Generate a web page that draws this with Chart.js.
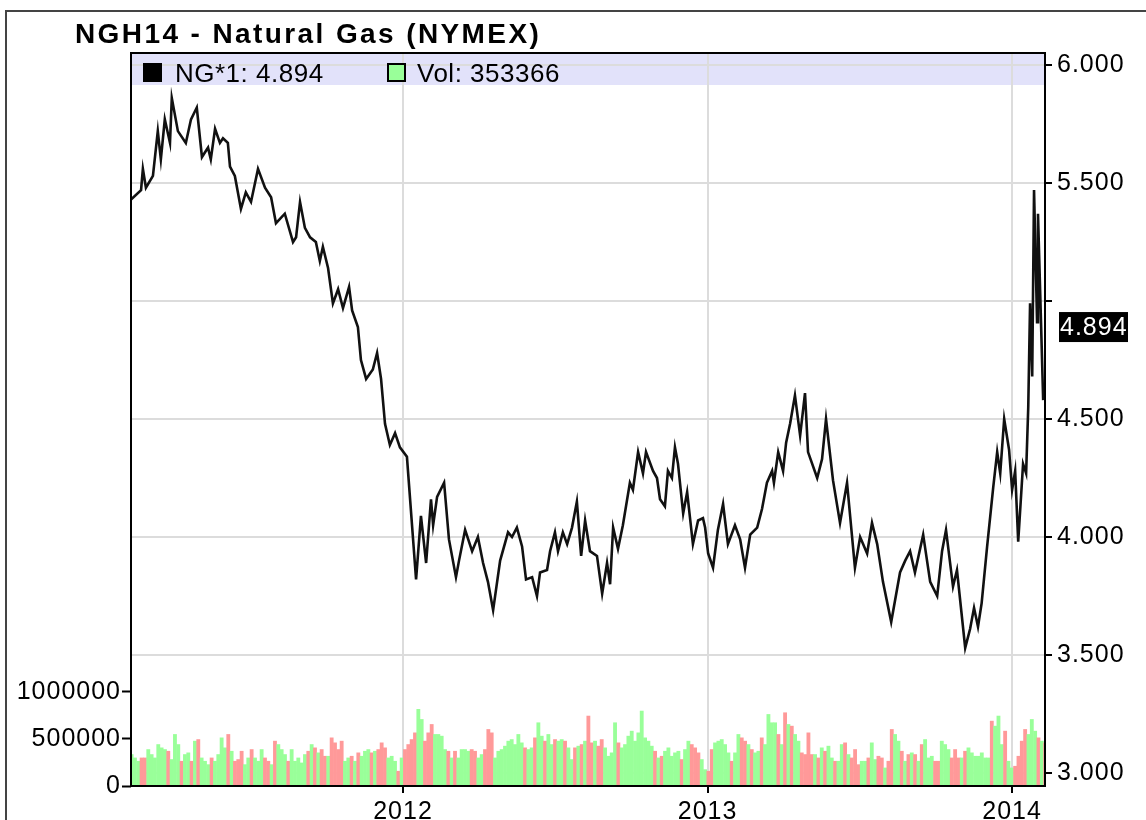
<!DOCTYPE html>
<html>
<head>
<meta charset="utf-8">
<script src="https://cdn.jsdelivr.net/npm/chart.js@4.4.1/dist/chart.umd.min.js"></script>
<style>
    html, body { margin: 0; padding: 0; background: #fff; }
</style>
</head>
<body>
<canvas id="grafica" width="1146" height="820"></canvas>
<script>
// Textos del grafico
var titulo = "NGH14 - Natural Gas (NYMEX)";
var serieNombre = "NG*1";
var ultimoPrecio = 4.894;
var volNombre = "Vol";
var ultimoVol = 353366;

// Precio (fecha en año decimal, valor)
var precioFechas = [
    2011.107, 2011.140, 2011.146, 2011.156, 2011.179, 2011.195, 2011.205, 2011.218, 2011.235, 2011.241,
    2011.261, 2011.287, 2011.304, 2011.323, 2011.340, 2011.360, 2011.369, 2011.383, 2011.399, 2011.409,
    2011.425, 2011.432, 2011.448, 2011.468, 2011.484, 2011.501, 2011.524, 2011.547, 2011.567, 2011.583,
    2011.612, 2011.639, 2011.649, 2011.662, 2011.678, 2011.695, 2011.714, 2011.727, 2011.737, 2011.754,
    2011.770, 2011.787, 2011.803, 2011.823, 2011.833, 2011.852, 2011.862, 2011.879, 2011.901, 2011.915,
    2011.928, 2011.941, 2011.957, 2011.974, 2011.990,
    2012.013, 2012.043, 2012.059, 2012.076, 2012.092, 2012.099, 2012.112, 2012.135, 2012.151, 2012.174,
    2012.184, 2012.204, 2012.227, 2012.246, 2012.263, 2012.279, 2012.296, 2012.319, 2012.345, 2012.358,
    2012.374, 2012.391, 2012.404, 2012.424, 2012.440, 2012.450, 2012.473, 2012.483, 2012.499, 2012.509,
    2012.525, 2012.539, 2012.555, 2012.571, 2012.585, 2012.598, 2012.614, 2012.637, 2012.654, 2012.670,
    2012.680, 2012.690, 2012.706, 2012.722, 2012.745, 2012.755, 2012.772, 2012.788, 2012.798, 2012.821,
    2012.834, 2012.844, 2012.860, 2012.870, 2012.883, 2012.893, 2012.903, 2012.920, 2012.933, 2012.952,
    2012.969, 2012.985, 2012.992,
    2013.002, 2013.018, 2013.034, 2013.051, 2013.067, 2013.090, 2013.107, 2013.123, 2013.140, 2013.163,
    2013.179, 2013.195, 2013.212, 2013.218, 2013.232, 2013.248, 2013.258, 2013.271, 2013.287, 2013.304,
    2013.320, 2013.330, 2013.360, 2013.376, 2013.389, 2013.412, 2013.435, 2013.458, 2013.484, 2013.501,
    2013.524, 2013.540, 2013.557, 2013.576, 2013.603, 2013.632, 2013.649, 2013.665, 2013.681, 2013.708,
    2013.731, 2013.754, 2013.770, 2013.783, 2013.806, 2013.819, 2013.846, 2013.862, 2013.875, 2013.888,
    2013.900, 2013.918, 2013.938, 2013.951, 2013.961, 2013.974, 2013.990,
    2014.000, 2014.010, 2014.020, 2014.036, 2014.046, 2014.053, 2014.059, 2014.066, 2014.072, 2014.082,
    2014.085, 2014.102
];
var precioValores = [
    5.43, 5.47, 5.56, 5.48, 5.53, 5.72, 5.60, 5.77, 5.67, 5.86,
    5.72, 5.67, 5.77, 5.82, 5.61, 5.65, 5.60, 5.73, 5.67, 5.69,
    5.67, 5.57, 5.53, 5.39, 5.46, 5.42, 5.56, 5.48, 5.44, 5.33,
    5.37, 5.25, 5.27, 5.42, 5.31, 5.27, 5.25, 5.17, 5.23, 5.14,
    4.99, 5.05, 4.97, 5.06, 4.96, 4.89, 4.75, 4.67, 4.71, 4.78,
    4.67, 4.48, 4.39, 4.44, 4.38,
    4.34, 3.82, 4.09, 3.89, 4.16, 4.05, 4.17, 4.23, 3.99, 3.83,
    3.90, 4.03, 3.94, 4.00, 3.89, 3.81, 3.69, 3.90, 4.02, 4.00,
    4.04, 3.96, 3.82, 3.83, 3.75, 3.85, 3.86, 3.94, 4.02, 3.94,
    4.02, 3.97, 4.04, 4.15, 3.92, 4.07, 3.94, 3.92, 3.76, 3.89,
    3.80, 4.04, 3.95, 4.05, 4.23, 4.20, 4.36, 4.27, 4.36, 4.28,
    4.25, 4.16, 4.13, 4.28, 4.25, 4.38, 4.31, 4.10, 4.19, 3.97,
    4.07, 4.08, 4.04,
    3.93, 3.87, 4.03, 4.14, 3.97, 4.05, 3.99, 3.87, 4.01, 4.04,
    4.12, 4.23, 4.28, 4.23, 4.36, 4.28, 4.40, 4.48, 4.60, 4.43,
    4.61, 4.36, 4.25, 4.33, 4.50, 4.24, 4.06, 4.23, 3.87, 4.00,
    3.93, 4.06, 3.97, 3.81, 3.64, 3.85, 3.90, 3.94, 3.85, 4.01,
    3.81, 3.75, 3.94, 4.03, 3.79, 3.86, 3.53, 3.61, 3.70, 3.62,
    3.72, 3.96, 4.21, 4.36, 4.27, 4.50, 4.37,
    4.20, 4.28, 3.98, 4.31, 4.27, 4.55, 4.99, 4.68, 5.47, 4.91,
    5.37, 4.58
];

// Volumen: una barra por sesion, desde volInicio cada volPaso años
var volInicio = 2011.109;
var volPaso = 0.010947;
var volValores = [
    337000, 301000, 266000, 301000, 301000, 390000, 337000, 301000, 443000, 408000,
    390000, 372000, 284000, 550000, 443000, 266000, 337000, 355000, 266000, 479000,
    496000, 301000, 266000, 230000, 301000, 266000, 337000, 514000, 408000, 550000,
    372000, 266000, 284000, 372000, 230000, 301000, 390000, 301000, 266000, 390000,
    301000, 266000, 230000, 479000, 443000, 390000, 337000, 266000, 390000, 266000,
    301000, 248000, 337000, 372000, 443000, 408000, 355000, 390000, 319000, 319000,
    514000, 461000, 390000, 479000, 266000, 301000, 319000, 266000, 355000, 319000,
    372000, 390000, 355000, 372000, 390000, 461000, 408000, 301000, 319000, 266000,
    160000, 301000, 390000, 443000, 496000, 567000, 816000, 709000, 479000, 567000,
    656000, 550000, 550000, 532000, 390000, 372000,
    301000, 372000, 301000, 390000, 390000, 372000, 390000, 372000, 301000, 337000,
    390000, 603000, 567000, 301000, 372000, 390000, 426000, 479000, 496000, 443000,
    550000, 461000, 408000, 390000, 408000, 514000, 674000, 532000, 479000, 550000,
    443000, 496000, 479000, 496000, 479000, 408000, 284000, 408000, 426000, 443000,
    479000, 745000, 461000, 479000, 426000, 496000, 408000, 319000, 355000, 674000,
    461000, 408000, 443000, 532000, 585000, 479000, 567000, 798000, 514000, 479000,
    426000, 372000, 301000, 319000, 372000, 408000, 319000, 355000, 372000, 284000,
    390000, 479000, 443000, 408000, 355000, 284000, 177000, 160000, 390000, 461000,
    479000, 496000, 443000, 355000, 266000, 355000, 550000, 514000, 479000, 443000,
    390000, 355000, 372000, 514000, 443000, 762000, 674000, 674000, 550000, 443000,
    780000, 656000, 638000, 550000, 479000,
    355000, 337000, 567000, 337000, 337000, 301000, 408000, 372000, 426000, 301000,
    266000, 266000, 443000, 461000, 337000, 301000, 390000, 230000, 266000, 266000,
    301000, 461000, 284000, 319000, 301000, 195000, 266000, 603000, 550000, 479000,
    372000, 266000, 337000, 355000, 337000, 266000, 443000, 496000, 301000, 319000,
    266000, 266000, 479000, 443000, 390000, 301000, 390000, 301000, 301000, 372000,
    408000, 355000, 319000, 319000, 355000, 301000, 301000, 691000, 638000, 745000,
    443000, 585000, 266000, 195000, 213000, 319000, 479000, 603000, 550000, 709000,
    585000, 514000, 479000, 461000
];
// g = sesion al alza, r = sesion a la baja
var volSentido =
    "gggrrggggggrgggrggrgrgggrggggrgrrrggrgggrrgrgggrgggggrgrgrrgrrrrggrgrgggrgrrrgggrgrrrrggrrrggggr" +
    "grggggrrggrrrgggggggggrggrggrggrggrggrgrgrrgrrggggrggggggggggrgrgggggrggrrrggrrgggggrggrrgrggrggggrgrgrggr" +
    "rrrgrgrggrggrgrrrggrggrrgrrggrgrgrgrgggrrgggrrrgrgggggggrgggrggrrrrgggrgrr";

// Ejes
var anios = [2012, 2013, 2014];
var preciosTicks = [3, 3.5, 4, 4.5, 5, 5.5, 6];
var preciosEtiquetas = ["3.000", "3.500", "4.000", "4.500", "", "5.500", "6.000"];
var volTicks = [0, 500000, 1000000];
var volEtiquetas = ["0", "500000", "1000000"];

var fuente = "'Liberation Sans', Arial, sans-serif";

// Marco, titulo, leyenda y etiqueta del ultimo precio
var decorado = {
    id: "decorado",
    beforeDraw: function (chart) {
        var c = chart.ctx, a = chart.chartArea;
        c.save();
        c.fillStyle = "#e2e2fa";
        c.fillRect(a.left, a.top, a.right - a.left, 32);
        c.restore();
        c.letterSpacing = "1px";
    },
    afterDraw: function (chart) {
        var c = chart.ctx, a = chart.chartArea;
        c.save();
        c.strokeStyle = "#444";
        c.lineWidth = 2;
        c.strokeRect(6, 11, 1300, 1000);

        c.strokeStyle = "#000";
        c.strokeRect(a.left, a.top, a.right - a.left, a.bottom - a.top);

        c.fillStyle = "#000";
        c.textBaseline = "alphabetic";
        c.textAlign = "left";
        c.font = "bold 28px " + fuente;
        c.letterSpacing = "2.4px";
        c.fillText(titulo, 75, 43);

        c.font = "26px " + fuente;
        c.letterSpacing = "0.5px";
        c.fillRect(a.left + 12, a.top + 10, 19, 19);
        c.fillText(serieNombre + ": " + ultimoPrecio.toFixed(3), a.left + 44, a.top + 29);
        c.fillStyle = "#99ff99";
        c.fillRect(a.left + 257, a.top + 11, 17, 17);
        c.lineWidth = 2;
        c.strokeRect(a.left + 257, a.top + 11, 17, 17);
        c.fillStyle = "#000";
        c.fillText(volNombre + ": " + ultimoVol, a.left + 286, a.top + 29);

        var py = chart.scales.y.getPixelForValue(ultimoPrecio);
        c.fillRect(a.right + 14, py - 14, 69, 30);
        c.fillStyle = "#fff";
        c.font = "25px " + fuente;
        c.letterSpacing = "1px";
        c.textBaseline = "middle";
        c.fillText(ultimoPrecio.toFixed(3), a.right + 15, py + 2);
        c.restore();
    }
};

var ctx = document.getElementById("grafica").getContext("2d");
var chart = new Chart(ctx, {
    type: "line",
    data: {
        datasets: [
            {
                type: "line",
                label: serieNombre,
                data: precioFechas.map(function (t, i) { return { x: t, y: precioValores[i] }; }),
                borderColor: "#111",
                borderWidth: 2.6,
                pointRadius: 0,
                tension: 0,
                xAxisID: "x",
                yAxisID: "y",
                order: 0
            },
            {
                type: "bar",
                label: volNombre,
                data: volValores.map(function (v, i) { return { x: volInicio + i * volPaso, y: v }; }),
                backgroundColor: volSentido.split("").map(function (s) { return s === "g" ? "#99ff99" : "#ff9999"; }),
                borderWidth: 0,
                barPercentage: 1.15,
                categoryPercentage: 1,
                xAxisID: "x",
                yAxisID: "yVol",
                order: 1
            }
        ]
    },
    options: {
        responsive: false,
        animation: false,
        events: [],
        layout: { padding: { top: 53, left: 0, right: 0, bottom: 0 } },
        plugins: { legend: { display: false }, tooltip: { enabled: false } },
        scales: {
            x: {
                type: "linear",
                min: 2011.107,
                max: 2014.108,
                offset: false,
                afterBuildTicks: function (s) { s.ticks = anios.map(function (v) { return { value: v }; }); },
                afterFit: function (s) { s.height = 34; },
                ticks: {
                    color: "#000",
                    font: { family: fuente, size: 25 },
                    padding: 4,
                    maxRotation: 0,
                    autoSkip: false,
                    callback: function (v) { return String(v); }
                },
                grid: { offset: false, color: "#dcdcdc", lineWidth: 2, tickLength: 7, tickColor: "#000", tickWidth: 2 },
                border: { display: false }
            },
            y: {
                type: "linear",
                position: "right",
                min: 2.945,
                max: 6.051,
                afterBuildTicks: function (s) { s.ticks = preciosTicks.map(function (v) { return { value: v }; }); },
                afterFit: function (s) { s.width = 101; },
                ticks: {
                    color: "#000",
                    font: { family: fuente, size: 25 },
                    padding: 5,
                    autoSkip: false,
                    callback: function (v, i) { return preciosEtiquetas[i]; }
                },
                grid: { color: "#dcdcdc", lineWidth: 2, tickLength: 7, tickColor: "#000", tickWidth: 2 },
                border: { display: false }
            },
            yVol: {
                type: "linear",
                position: "left",
                min: 0,
                max: 7770000,
                afterBuildTicks: function (s) { s.ticks = volTicks.map(function (v) { return { value: v }; }); },
                afterFit: function (s) { s.width = 131; },
                ticks: {
                    color: "#000",
                    font: { family: fuente, size: 25 },
                    padding: 1,
                    autoSkip: false,
                    callback: function (v, i) { return volEtiquetas[i]; }
                },
                grid: { drawOnChartArea: false, tickLength: 9, tickColor: "#000", tickWidth: 2 },
                border: { display: false }
            }
        }
    },
    plugins: [decorado]
});
</script>
</body>
</html>
